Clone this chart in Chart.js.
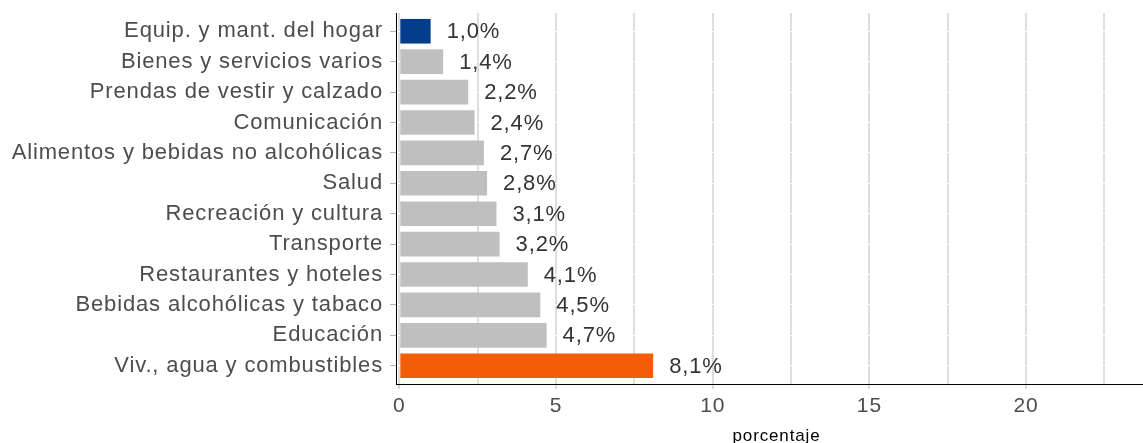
<!DOCTYPE html>
<html>
<head>
<meta charset="utf-8">
<script src="https://cdn.jsdelivr.net/npm/chart.js@4/dist/chart.umd.min.js"></script>
<style>
html,body{margin:0;padding:0;background:#fff;}
#wrap{width:1143px;height:443px;position:relative;}
</style>
</head>
<body>
<div id="wrap"><canvas id="c" width="1143" height="443"></canvas></div>
<script>
const categories = [
  "Equip. y mant. del hogar",
  "Bienes y servicios varios",
  "Prendas de vestir y calzado",
  "Comunicación",
  "Alimentos y bebidas no alcohólicas",
  "Salud",
  "Recreación y cultura",
  "Transporte",
  "Restaurantes y hoteles",
  "Bebidas alcohólicas y tabaco",
  "Educación",
  "Viv., agua y combustibles"
];
const values = [1.0, 1.4, 2.2, 2.4, 2.7, 2.8, 3.1, 3.2, 4.1, 4.5, 4.7, 8.1];
const barColors = ["#043d8c","#bfbfbf","#bfbfbf","#bfbfbf","#bfbfbf","#bfbfbf","#bfbfbf","#bfbfbf","#bfbfbf","#bfbfbf","#bfbfbf","#f25d05"];
const xTickValues = [0, 2.5, 5, 7.5, 10, 12.5, 15, 17.5, 20, 22.5];
const xTitle = "porcentaje";

const FONT = "'Liberation Sans', Arial, Helvetica, sans-serif";
const SPACING = "0.85px";

const textSpacing = {
  id: 'textSpacing',
  beforeUpdate(chart) { chart.ctx.letterSpacing = SPACING; },
  beforeDraw(chart) { chart.ctx.letterSpacing = SPACING; }
};

const valueLabels = {
  id: 'valueLabels',
  afterDatasetsDraw(chart) {
    const ctx = chart.ctx;
    const meta = chart.getDatasetMeta(0);
    ctx.save();
    ctx.letterSpacing = SPACING;
    ctx.font = "22px " + FONT;
    ctx.fillStyle = "#333333";
    ctx.textAlign = "left";
    ctx.textBaseline = "middle";
    meta.data.forEach((el, i) => {
      const txt = values[i].toFixed(1).replace('.', ',') + '%';
      ctx.fillText(txt, el.x + 16, el.y + 1);
    });
    ctx.restore();
  }
};

const axisTitle = {
  id: 'axisTitle',
  afterDraw(chart) {
    const ctx = chart.ctx;
    const a = chart.chartArea;
    ctx.save();
    ctx.letterSpacing = SPACING;
    ctx.font = "17px " + FONT;
    ctx.fillStyle = "#000000";
    ctx.textAlign = "center";
    ctx.textBaseline = "alphabetic";
    ctx.fillText(xTitle, (a.left + a.right) / 2 + 7, 441);
    ctx.restore();
  }
};

new Chart(document.getElementById('c'), {
  type: 'bar',
  data: {
    datasets: [{
      data: values.map((v, i) => ({ x: v, y: i })),
      backgroundColor: barColors,
      borderWidth: 0,
      categoryPercentage: 1.0,
      barPercentage: 0.81
    }]
  },
  options: {
    indexAxis: 'y',
    responsive: false,
    animation: false,
    devicePixelRatio: 1,
    layout: { padding: { top: 13, left: 0, right: 0, bottom: 0 } },
    plugins: { legend: { display: false }, tooltip: { enabled: false } },
    scales: {
      x: {
        type: 'linear',
        min: -0.105,
        max: 23.73,
        afterBuildTicks(scale) {
          scale.ticks = xTickValues.map(v => ({ value: v }));
        },
        afterFit(scale) {
          scale.height = 59;
          scale.paddingLeft = 0;
          scale.paddingRight = 0;
        },
        ticks: {
          autoSkip: false,
          maxRotation: 0,
          padding: 5,
          color: "#4d4d4d",
          font: { family: FONT, size: 21 },
          callback: (v) => (v % 5 === 0 ? String(v) : "")
        },
        grid: {
          color: "#dedede",
          lineWidth: 2,
          tickLength: 5,
          tickWidth: 1,
          tickColor: (c) => (c.tick && c.tick.value % 5 === 0 ? "#b3b3b3" : "rgba(0,0,0,0)")
        },
        border: { display: true, color: "#000000", width: 1 },
        title: { display: false }
      },
      y: {
        type: 'linear',
        reverse: true,
        offset: false,
        min: -0.6,
        max: categories.length - 1 + 0.6,
        afterBuildTicks(scale) {
          scale.ticks = categories.map((c, i) => ({ value: i }));
        },
        afterFit(scale) {
          scale.width = 396;
          scale.paddingTop = 0;
          scale.paddingBottom = 0;
        },
        ticks: {
          autoSkip: false,
          padding: 7,
          color: "#4d4d4d",
          font: { family: FONT, size: 22 },
          callback: (v) => categories[v] ?? ""
        },
        grid: {
          offset: false,
          color: "#ffffff",
          lineWidth: 1,
          tickLength: 6,
          tickColor: "#b3b3b3",
          tickWidth: 1
        },
        border: { display: true, color: "#000000", width: 1 }
      }
    }
  },
  plugins: [textSpacing, valueLabels, axisTitle]
});
</script>
</body>
</html>
